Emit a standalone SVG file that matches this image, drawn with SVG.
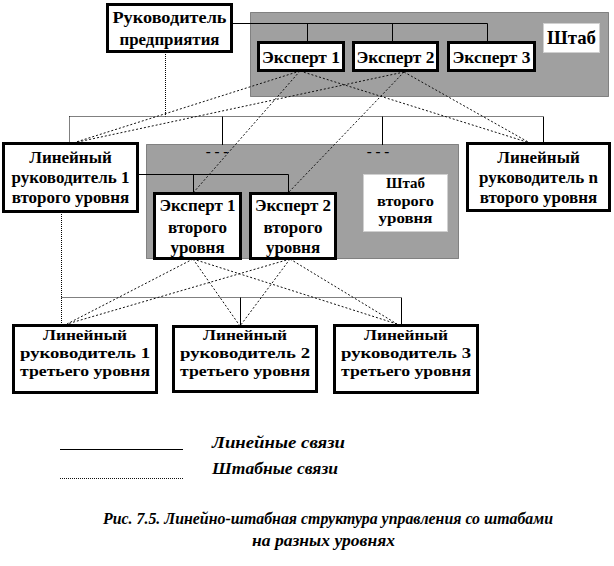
<svg xmlns="http://www.w3.org/2000/svg" width="614" height="566" viewBox="0 0 614 566">
<style>
.bg{fill:#ffffff}
.staff{fill:#a0a0a0;stroke:#333;stroke-width:1;stroke-dasharray:1 1}
.box{fill:#ffffff;stroke:#000;stroke-width:3}
.lbl{fill:#ffffff;stroke:#d0d0d0;stroke-width:1}
.t{font-weight:bold;font-size:17px;fill:#000;text-anchor:middle}
.s{font-size:15.5px}
.lin{fill:none;stroke:#000;stroke-width:1}
.dith{fill:none;stroke:#000;stroke-width:1;stroke-dasharray:1 1}
.stf{fill:none;stroke:#111;stroke-width:1;stroke-dasharray:2 2}
.it{font-weight:bold;font-style:italic;fill:#000}
</style>
<rect class="bg" x="0" y="0" width="614" height="566"/>

<g font-family="'Liberation Serif', 'DejaVu Serif', serif">
<g id="staff-top">
<rect class="staff" x="250.5" y="12.5" width="358" height="84"/>
<rect class="lbl" x="543.5" y="23.5" width="56" height="29"/>
<text class="t" x="571.5" y="44" style="font-size:19px" textLength="49" lengthAdjust="spacingAndGlyphs">Штаб</text>
</g>
<g id="staff-second">
<rect class="staff" x="146.5" y="144.5" width="312" height="114"/>
<rect class="lbl" x="363.5" y="174.5" width="84" height="57"/>
<text class="t s" x="405.5" y="188" textLength="39" lengthAdjust="spacingAndGlyphs">Штаб</text>
<text class="t s" x="405.5" y="205.5" textLength="57" lengthAdjust="spacingAndGlyphs">второго</text>
<text class="t s" x="405.5" y="223" textLength="54" lengthAdjust="spacingAndGlyphs">уровня</text>
<text class="t" x="217" y="156" style="font-size:15px">- - -</text>
<text class="t" x="378" y="156" style="font-size:15px">- - -</text>
</g>

<g id="connectors">
<polyline class="lin" points="232,23.5 487.5,23.5 487.5,42"/>
<line class="lin" x1="307.5" y1="23.5" x2="307.5" y2="42"/>
<line class="lin" x1="392.5" y1="23.5" x2="392.5" y2="42"/>
<line class="dith" x1="165.5" y1="52" x2="165.5" y2="116.5"/>
<line class="dith" x1="69.5" y1="116.5" x2="543.5" y2="116.5"/>
<line class="dith" x1="69.5" y1="116.5" x2="69.5" y2="143"/>
<line class="lin" x1="222.5" y1="116.5" x2="222.5" y2="145"/>
<line class="lin" x1="382.5" y1="116.5" x2="382.5" y2="145"/>
<line class="lin" x1="543.5" y1="116.5" x2="543.5" y2="143"/>
<polyline class="lin" points="138,174.5 288.5,174.5 288.5,193"/>
<line class="lin" x1="193.5" y1="174.5" x2="193.5" y2="193"/>
<line class="dith" x1="61.5" y1="212" x2="61.5" y2="325"/>
<line class="dith" x1="61.5" y1="297.5" x2="401.5" y2="297.5"/>
<line class="lin" x1="240.5" y1="297.5" x2="240.5" y2="326"/>
<line class="lin" x1="401.5" y1="297.5" x2="401.5" y2="325"/>
<line class="stf" x1="300" y1="71" x2="73" y2="143"/>
<line class="stf" x1="300" y1="71" x2="193" y2="193"/>
<line class="stf" x1="300" y1="71" x2="530" y2="143"/>
<line class="stf" x1="404" y1="72" x2="73" y2="143"/>
<line class="stf" x1="404" y1="72" x2="288" y2="193"/>
<line class="stf" x1="404" y1="72" x2="530" y2="143"/>
<line class="stf" x1="193" y1="259" x2="67" y2="324"/>
<line class="stf" x1="193" y1="259" x2="240" y2="326"/>
<line class="stf" x1="193" y1="259" x2="397" y2="324"/>
<line class="stf" x1="290" y1="259" x2="67" y2="324"/>
<line class="stf" x1="290" y1="259" x2="240" y2="326"/>
<line class="stf" x1="290" y1="259" x2="397" y2="324"/>
</g>

<g id="head">
<rect class="box" x="107.5" y="4.5" width="124" height="47"/>
<text class="t" x="169.5" y="23" textLength="114" lengthAdjust="spacingAndGlyphs">Руководитель</text>
<text class="t" x="169.5" y="45" textLength="100" lengthAdjust="spacingAndGlyphs">предприятия</text>
</g>
<g id="expert1">
<rect class="box" x="258.5" y="42.5" width="85" height="28"/>
<text class="t" x="301" y="63" textLength="78" lengthAdjust="spacingAndGlyphs">Эксперт 1</text>
</g>
<g id="expert2">
<rect class="box" x="353.5" y="42.5" width="84" height="28"/>
<text class="t" x="395.5" y="63" textLength="78" lengthAdjust="spacingAndGlyphs">Эксперт 2</text>
</g>
<g id="expert3">
<rect class="box" x="448.5" y="42.5" width="86" height="28"/>
<text class="t" x="491.5" y="63" textLength="78" lengthAdjust="spacingAndGlyphs">Эксперт 3</text>
</g>

<g id="line-mgr-1">
<rect class="box" x="3.5" y="143.5" width="134" height="68"/>
<text class="t" x="70.5" y="163">Линейный</text>
<text class="t" x="70.5" y="183">руководитель 1</text>
<text class="t" x="70.5" y="203">второго уровня</text>
</g>
<g id="line-mgr-n">
<rect class="box" x="467.5" y="143.5" width="142" height="67"/>
<text class="t" x="538.5" y="163">Линейный</text>
<text class="t" x="538.5" y="183">руководитель n</text>
<text class="t" x="538.5" y="203">второго уровня</text>
</g>
<g id="expert1-second">
<rect class="box" x="154.5" y="193.5" width="86" height="65"/>
<text class="t" x="197.5" y="211">Эксперт 1</text>
<text class="t" x="197.5" y="233">второго</text>
<text class="t" x="197.5" y="253">уровня</text>
</g>
<g id="expert2-second">
<rect class="box" x="250.5" y="193.5" width="85" height="65"/>
<text class="t" x="293" y="211">Эксперт 2</text>
<text class="t" x="293" y="233">второго</text>
<text class="t" x="293" y="253">уровня</text>
</g>

<g id="line-mgr-3-1">
<rect class="box" x="13.5" y="325.5" width="143" height="67"/>
<text class="t s" x="85" y="340" textLength="84" lengthAdjust="spacingAndGlyphs">Линейный</text>
<text class="t s" x="85" y="358" textLength="130" lengthAdjust="spacingAndGlyphs">руководитель 1</text>
<text class="t s" x="85" y="376" textLength="130" lengthAdjust="spacingAndGlyphs">третьего уровня</text>
</g>
<g id="line-mgr-3-2">
<rect class="box" x="173.5" y="326.5" width="143" height="65"/>
<text class="t s" x="245" y="340" textLength="84" lengthAdjust="spacingAndGlyphs">Линейный</text>
<text class="t s" x="245" y="358" textLength="130" lengthAdjust="spacingAndGlyphs">руководитель 2</text>
<text class="t s" x="245" y="376" textLength="130" lengthAdjust="spacingAndGlyphs">третьего уровня</text>
</g>
<g id="line-mgr-3-3">
<rect class="box" x="334.5" y="325.5" width="143" height="67"/>
<text class="t s" x="406" y="340" textLength="84" lengthAdjust="spacingAndGlyphs">Линейный</text>
<text class="t s" x="406" y="358" textLength="130" lengthAdjust="spacingAndGlyphs">руководитель 3</text>
<text class="t s" x="406" y="376" textLength="130" lengthAdjust="spacingAndGlyphs">третьего уровня</text>
</g>

<g id="legend">
<line class="lin" x1="60" y1="449.5" x2="183" y2="449.5"/>
<text class="it" x="212" y="448" style="font-size:16px" textLength="133" lengthAdjust="spacingAndGlyphs">Линейные связи</text>
<line class="stf" x1="60" y1="478.5" x2="183" y2="478.5" style="stroke-dasharray:1 1"/>
<text class="it" x="212" y="474" style="font-size:16px" textLength="126" lengthAdjust="spacingAndGlyphs">Штабные  связи</text>
</g>

<g id="caption">
<text class="it" x="103" y="524" style="font-size:17px" textLength="450" lengthAdjust="spacingAndGlyphs">Рис. 7.5. Линейно-штабная структура управления со штабами</text>
<text class="it" x="252" y="546" style="font-size:17px" textLength="143" lengthAdjust="spacingAndGlyphs">на разных уровнях</text>
</g>
</g>
</svg>
